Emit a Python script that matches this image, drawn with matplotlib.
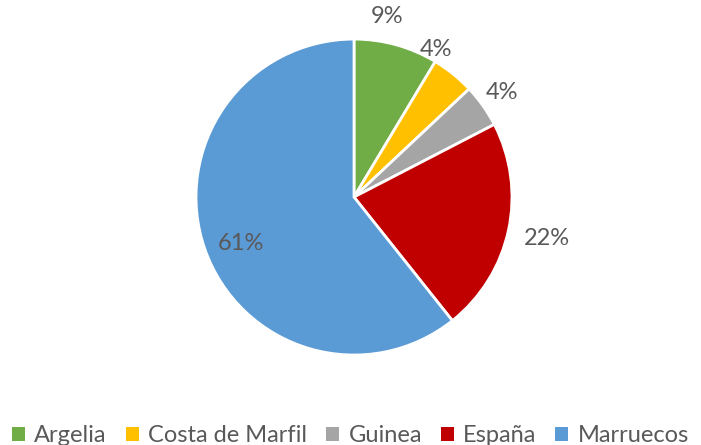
import numpy as np
import matplotlib
matplotlib.use('Agg')
import matplotlib.pyplot as plt
from matplotlib.patches import Patch

# Datos del gráfico
paises = ['Argelia', 'Costa de Marfil', 'Guinea', 'España', 'Marruecos']
porcentajes = [8.6, 4.4, 4.4, 21.9, 60.7]
colores = ['#70AD47', '#FFC000', '#A5A5A5', '#C00000', '#5B9BD5']
# posición de cada etiqueta: distancia al centro (radios) y giro (grados)
dist_etiquetas = [1.16, 1.07, 1.15, 1.25, 0.77]
giro_etiquetas = [5, 10, 0, 0, 3]

plt.rcParams['font.family'] = ['Lato', 'DejaVu Sans']
texto_color = '#595959'

fig = plt.figure(figsize=(7.01, 4.45), dpi=100)
ax = fig.add_axes([0.212, 0.0957, 0.586, 0.923])

wedges, _ = ax.pie(porcentajes, colors=colores, startangle=90, counterclock=False,
                   wedgeprops=dict(edgecolor='white', linewidth=2))
ax.set_xlim(-1.3, 1.3)
ax.set_ylim(-1.3, 1.3)
ax.set_aspect('equal')

# Etiquetas de porcentaje
for w, p, d, g in zip(wedges, porcentajes, dist_etiquetas, giro_etiquetas):
    ang = np.deg2rad((w.theta1 + w.theta2) / 2 + g)
    ax.text(d * np.cos(ang), d * np.sin(ang), f'{p:.0f}%', ha='center', va='center',
            fontsize=17, color=texto_color)

handles = [Patch(facecolor=c, label=n) for c, n in zip(colores, paises)]
fig.legend(handles=handles, loc='lower center', ncol=5, frameon=False,
           bbox_to_anchor=(0.5, -0.05), fontsize=17, labelcolor=texto_color,
           handlelength=0.55, handleheight=0.55, handletextpad=0.4, columnspacing=0.8)

fig.savefig('out.png', dpi=100)
